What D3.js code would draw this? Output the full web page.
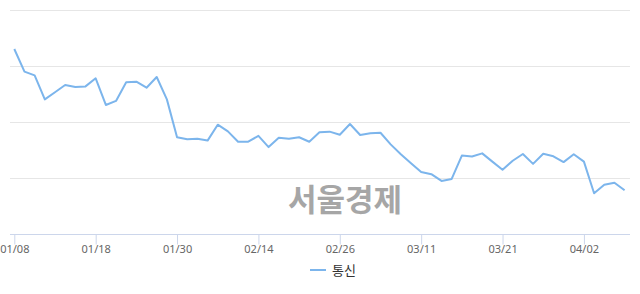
<!DOCTYPE html>
<html>
<head>
<meta charset="utf-8">
<script src="https://cdn.jsdelivr.net/npm/d3@7"></script>
<style>
  body { margin: 0; background: #fff; }
  svg { display: block; font-family: "Noto Sans CJK KR", "Noto Sans", sans-serif; }
</style>
</head>
<body>
<div id="chart"></div>
<script>
// Trading days (2019), one point each
var dates = ["01/08", "01/09", "01/10", "01/11", "01/14", "01/15", "01/16", "01/17", "01/18",
    "01/21", "01/22", "01/23", "01/24", "01/25", "01/28", "01/29", "01/30",
    "01/31", "02/01", "02/07", "02/08", "02/11", "02/12", "02/13", "02/14",
    "02/15", "02/18", "02/19", "02/20", "02/21", "02/22", "02/25", "02/26",
    "02/27", "02/28", "03/04", "03/05", "03/06", "03/07", "03/08", "03/11",
    "03/12", "03/13", "03/14", "03/15", "03/18", "03/19", "03/20", "03/21",
    "03/22", "03/25", "03/26", "03/27", "03/28", "03/29", "04/01", "04/02",
    "04/03", "04/04", "04/05", "04/08"]

// Index values
var values = [82.6, 72.5, 70.8, 60.1, 63.3, 66.5, 65.6, 65.9, 69.5,
    57.6, 59.4, 67.7, 68.0, 65.3, 70.1, 60.1, 43.2,
    42.3, 42.5, 41.7, 48.8, 45.8, 41.2, 41.2, 43.8,
    38.8, 43.0, 42.5, 43.2, 41.2, 45.4, 45.7, 44.3,
    49.1, 44.2, 45.0, 45.2, 40.0, 35.6, 31.6, 27.7,
    26.7, 23.7, 24.6, 35.0, 34.6, 36.0, 32.3, 28.7,
    32.7, 35.7, 31.3, 35.8, 34.7, 32.1, 35.6, 32.3,
    18.2, 22.0, 22.9, 19.5]

var tickLabels = ["01/08", "01/18", "01/30", "02/14", "02/26", "03/11", "03/21", "04/02"]
var gridValues = [0, 25, 50, 75, 100]
var seriesName = "통신"
var watermark = "서울경제"

var width = 640, height = 294
var plot = { left: 10, right: 630, top: 10, bottom: 234 }

var svg = d3.select("#chart")
    .append("svg")
    .attr("width", width)
    .attr("height", height)

// Scales
var x = d3.scalePoint()
    .domain(dates)
    .range([14.3, 624.6])

var y = d3.scaleLinear()
    .domain([0, 100])
    .range([plot.bottom, plot.top])

// Gridlines
svg.append("g")
    .selectAll("line")
    .data(gridValues.slice(1))
    .enter()
    .append("line")
    .attr("x1", plot.left)
    .attr("x2", plot.right)
    .attr("y1", function(d) { return Math.round(y(d)) + 0.5 })
    .attr("y2", function(d) { return Math.round(y(d)) + 0.5 })
    .attr("stroke", "#e6e6e6")
    .attr("stroke-width", 1)

// Watermark
svg.append("text")
    .attr("x", 345)
    .attr("y", 211)
    .attr("text-anchor", "middle")
    .attr("font-size", "31px")
    .attr("font-weight", "bold")
    .attr("fill", "#a6a6a6")
    .text(watermark)

// X axis
var xAxis = svg.append("g")
    .attr("transform", "translate(0," + (plot.bottom + 0.5) + ")")
    .call(d3.axisBottom(x).tickValues(tickLabels).tickSize(10).tickSizeOuter(0).tickPadding(5))

xAxis.select(".domain").remove()
xAxis.selectAll(".tick line").attr("stroke", "#ccd6eb")
xAxis.selectAll(".tick text")
    .attr("fill", "#666666")
    .attr("font-size", "11px")
    .attr("y", 18)
    .attr("dy", "0")
    .style("font-family", "'Noto Sans', sans-serif")

svg.append("line")
    .attr("x1", plot.left)
    .attr("x2", plot.right)
    .attr("y1", plot.bottom + 0.5)
    .attr("y2", plot.bottom + 0.5)
    .attr("stroke", "#ccd6eb")

// Line
var line = d3.line()
    .x(function(d, i) { return x(dates[i]) })
    .y(function(d) { return y(d) })

svg.append("path")
    .datum(values)
    .attr("d", line)
    .attr("fill", "none")
    .attr("stroke", "#7cb5ec")
    .attr("stroke-width", 2)
    .attr("stroke-linejoin", "round")

// Legend
var legend = svg.append("g").attr("transform", "translate(310,270)")
legend.append("line")
    .attr("x1", 0).attr("x2", 16)
    .attr("stroke", "#7cb5ec")
    .attr("stroke-width", 2)
legend.append("text")
    .attr("x", 22)
    .attr("y", 5)
    .attr("font-size", "13px")
    .attr("fill", "#333333")
    .text(seriesName)
</script>
</body>
</html>
